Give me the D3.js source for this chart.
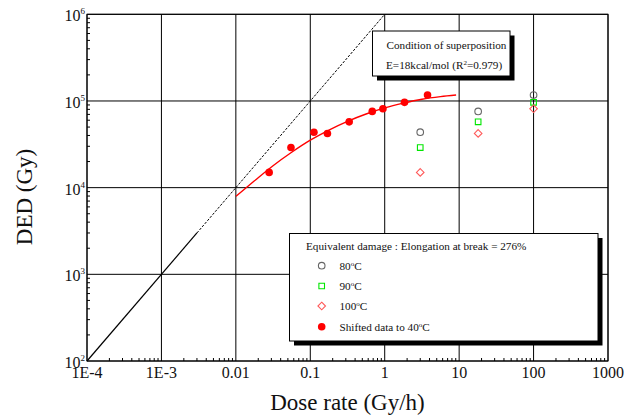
<!DOCTYPE html>
<html>
<head>
<meta charset="utf-8">
<script src="https://cdn.jsdelivr.net/npm/d3@7"></script>
<style>
  html, body { margin: 0; padding: 0; background: #fff; }
  svg { display: block; }
  svg text { font-family: "Liberation Serif", "DejaVu Serif", serif; }
</style>
</head>
<body>
<svg id="chart" width="624" height="417"></svg>
<script>
// ---- Data ----
const xTickValues = [1e-4, 1e-3, 0.01, 0.1, 1, 10, 100, 1000];
const xTickLabels = ["1E-4", "1E-3", "0.01", "0.1", "1", "10", "100", "1000"];
const yTickValues = [1e2, 1e3, 1e4, 1e5, 1e6];
const yTickExponents = ["2", "3", "4", "5", "6"];

const measuredDoseRates = [3, 18, 100];
const ded80 = [43600, 75800, 117000];
const ded90 = [29000, 57400, 96400];
const ded100 = [15000, 42200, 81300];

const shiftedDoseRates = [0.028, 0.055, 0.112, 0.17, 0.333, 0.68, 0.946, 1.845, 3.76];
const shiftedDED = [15000, 29000, 43600, 42200, 57400, 75800, 81300, 96400, 117000];

const fitDoseRates = [0.01, 0.0178, 0.0316, 0.0562, 0.1, 0.178, 0.316, 0.562, 1, 1.78, 3.16, 5.62, 9.1];
const fitDED = [7940, 12000, 17900, 25600, 35300, 46200, 58200, 70800, 83200, 94400, 104700, 112200, 117000];

const refLineDoseRates = [1e-4, 0.003, 1];
const refLineDED = [1e2, 3e3, 1e6];

// ---- Layout ----
const svg = d3.select("#chart");
const L = 87, R = 608, T = 14.3, B = 361;
const x = d3.scaleLog().domain([1e-4, 1000]).range([L, R]);
const y = d3.scaleLog().domain([1e2, 1e6]).range([B, T]);

// grid
const g = svg.append("g");
g.selectAll(".vg").data(xTickValues).join("line")
  .attr("x1", d => x(d)).attr("x2", d => x(d))
  .attr("y1", T).attr("y2", B)
  .attr("stroke", "#000").attr("stroke-width", 1);
g.selectAll(".hg").data(yTickValues).join("line")
  .attr("x1", L).attr("x2", R)
  .attr("y1", d => y(d)).attr("y2", d => y(d))
  .attr("stroke", "#000").attr("stroke-width", 1);

// minor ticks
const xMinor = x.ticks().filter(d => Math.abs(Math.log10(d) - Math.round(Math.log10(d))) > 1e-6);
g.selectAll(".xm").data(xMinor).join("line")
  .attr("x1", d => x(d)).attr("x2", d => x(d))
  .attr("y1", B).attr("y2", B - 3)
  .attr("stroke", "#000").attr("stroke-width", 1);
const yMinor = y.ticks().filter(d => Math.abs(Math.log10(d) - Math.round(Math.log10(d))) > 1e-6);
g.selectAll(".ym").data(yMinor).join("line")
  .attr("x1", L).attr("x2", L + 3)
  .attr("y1", d => y(d)).attr("y2", d => y(d))
  .attr("stroke", "#000").attr("stroke-width", 1);

// frame
svg.append("rect").attr("x", L).attr("y", T).attr("width", R - L).attr("height", B - T)
  .attr("fill", "none").attr("stroke", "#000").attr("stroke-width", 1);

// reference line (solid lower part, dashed upper part)
const lineGen = d3.line().x(d => x(d[0])).y(d => y(d[1]));
const refPts = refLineDoseRates.map((d, i) => [d, refLineDED[i]]);
svg.append("path").attr("d", lineGen(refPts.slice(0, 2)))
  .attr("fill", "none").attr("stroke", "#000").attr("stroke-width", 1.2);
svg.append("path").attr("d", lineGen(refPts.slice(1)))
  .attr("fill", "none").attr("stroke", "#000").attr("stroke-width", 1)
  .attr("stroke-dasharray", "2.5,1.5");

// fit curve
const fitPts = fitDoseRates.map((d, i) => [d, fitDED[i]]);
svg.append("path")
  .attr("d", d3.line().x(d => x(d[0])).y(d => y(d[1])).curve(d3.curveMonotoneX)(fitPts))
  .attr("fill", "none").attr("stroke", "#ff0000").attr("stroke-width", 1.4);

// shifted data
svg.selectAll(".sh").data(shiftedDoseRates.map((d, i) => [d, shiftedDED[i]])).join("circle")
  .attr("cx", d => x(d[0])).attr("cy", d => y(d[1])).attr("r", 3.8)
  .attr("fill", "#ff0000");

// open markers
function circleMark(sel) { sel.attr("r", 3.3).attr("fill", "none").attr("stroke", "#666").attr("stroke-width", 1.1); }
function squareMark(x0, y0) { return `M${x0-2.8},${y0-2.8}h5.6v5.6h-5.6Z`; }
function diamondMark(x0, y0) { return `M${x0},${y0-3.8}L${x0+3.8},${y0}L${x0},${y0+3.8}L${x0-3.8},${y0}Z`; }

svg.selectAll(".c80").data(measuredDoseRates.map((d, i) => [d, ded80[i]])).join("circle")
  .attr("cx", d => x(d[0])).attr("cy", d => y(d[1])).call(circleMark);
svg.selectAll(".s90").data(measuredDoseRates.map((d, i) => [d, ded90[i]])).join("path")
  .attr("d", d => squareMark(x(d[0]), y(d[1])))
  .attr("fill", "none").attr("stroke", "#00e600").attr("stroke-width", 1.1);
svg.selectAll(".d100").data(measuredDoseRates.map((d, i) => [d, ded100[i]])).join("path")
  .attr("d", d => diamondMark(x(d[0]), y(d[1])))
  .attr("fill", "none").attr("stroke", "#ff5a5a").attr("stroke-width", 1.1);

// tick labels
svg.selectAll(".xl").data(xTickValues).join("text")
  .attr("x", d => x(d)).attr("y", 377.5)
  .attr("text-anchor", "middle").attr("font-size", 16).attr("fill", "#111")
  .text((d, i) => xTickLabels[i]);
const yl = svg.selectAll(".yl").data(yTickValues).join("text")
  .attr("x", 85).attr("y", d => y(d) + 7)
  .attr("text-anchor", "end").attr("font-size", 16).attr("fill", "#111");
yl.append("tspan").text("10");
yl.append("tspan").attr("dy", -7).attr("font-size", 9).text((d, i) => yTickExponents[i]);

// axis titles
svg.append("text").attr("x", 347.5).attr("y", 410)
  .attr("text-anchor", "middle").attr("font-size", 23).attr("fill", "#111")
  .text("Dose rate (Gy/h)");
svg.append("text").attr("transform", "translate(32,197) rotate(-90)")
  .attr("text-anchor", "middle").attr("font-size", 23).attr("fill", "#111")
  .text("DED (Gy)");

// box 1: condition of superposition
const b1 = { x: 372.5, y: 31, w: 137.5, h: 45 };
svg.append("rect").attr("x", b1.x + 4.5).attr("y", b1.y + 4.5).attr("width", b1.w).attr("height", b1.h).attr("fill", "#000");
svg.append("rect").attr("x", b1.x).attr("y", b1.y).attr("width", b1.w).attr("height", b1.h)
  .attr("fill", "#fff").attr("stroke", "#000").attr("stroke-width", 1);
svg.append("text").attr("x", 386.5).attr("y", 49).attr("font-size", 11.2).attr("fill", "#111")
  .text("Condition of superposition");
const t2 = svg.append("text").attr("x", 386).attr("y", 69).attr("font-size", 11.2).attr("fill", "#111");
t2.append("tspan").text("E=18kcal/mol (R");
t2.append("tspan").attr("dy", -4).attr("font-size", 7).text("2");
t2.append("tspan").attr("dy", 4).text("=0.979)");

// box 2: legend
const b2 = { x: 289.5, y: 233.5, w: 308.5, h: 107.5 };
svg.append("rect").attr("x", b2.x + 4.5).attr("y", b2.y + 4.5).attr("width", b2.w).attr("height", b2.h).attr("fill", "#000");
svg.append("rect").attr("x", b2.x).attr("y", b2.y).attr("width", b2.w).attr("height", b2.h)
  .attr("fill", "#fff").attr("stroke", "#000").attr("stroke-width", 1);
svg.append("text").attr("x", 306).attr("y", 250).attr("font-size", 11.2).attr("fill", "#111")
  .text("Equivalent damage : Elongation at break = 276%");

const legendTemps = ["80", "90", "100"];
const legendY = [265.7, 286, 306, 326.7];
const mx = 321.7;
svg.append("circle").attr("cx", mx).attr("cy", legendY[0]).call(circleMark);
svg.append("path").attr("d", squareMark(mx, legendY[1])).attr("fill", "none").attr("stroke", "#00e600").attr("stroke-width", 1.1);
svg.append("path").attr("d", diamondMark(mx, legendY[2])).attr("fill", "none").attr("stroke", "#ff5a5a").attr("stroke-width", 1.1);
svg.append("circle").attr("cx", mx).attr("cy", legendY[3]).attr("r", 3.8).attr("fill", "#ff0000");

legendTemps.forEach((t, i) => {
  const tx = svg.append("text").attr("x", 339.5).attr("y", legendY[i] + 4).attr("font-size", 11.2).attr("fill", "#111");
  tx.append("tspan").text(t);
  tx.append("tspan").attr("dy", -4).attr("font-size", 7).text("o");
  tx.append("tspan").attr("dy", 4).text("C");
});
const tl = svg.append("text").attr("x", 339.5).attr("y", legendY[3] + 4).attr("font-size", 11.2).attr("fill", "#111");
tl.append("tspan").text("Shifted data to 40");
tl.append("tspan").attr("dy", -4).attr("font-size", 7).text("o");
tl.append("tspan").attr("dy", 4).text("C");
</script>
</body>
</html>
